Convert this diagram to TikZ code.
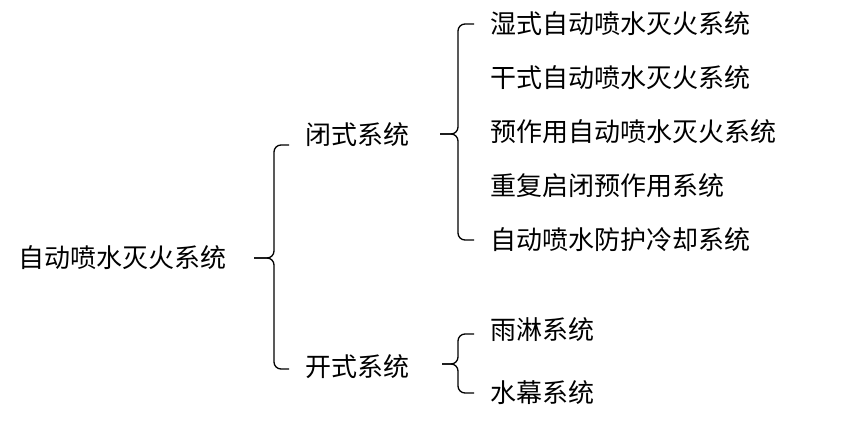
\documentclass[tikz,border=0pt]{standalone}
\usepackage{fontspec}
\setmainfont{Noto Sans CJK SC}
\tikzset{
  lbl/.style={anchor=west, inner sep=0pt, font=\fontsize{26pt}{28pt}\selectfont},
  brace/.style={line width=1.3pt, rounded corners=7pt}
}
\begin{document}
\begin{tikzpicture}[x=1pt, y=-1pt]
    \useasboundingbox (0,0) rectangle (859,427);

    % Labels
    \node[lbl] (root) at (18,258) {自动喷水灭火系统};
    \node[lbl] (closed) at (305,135) {闭式系统};
    \node[lbl] (open) at (305,367) {开式系统};
    \node[lbl] (c1) at (490,24) {湿式自动喷水灭火系统};
    \node[lbl] (c2) at (490,78) {干式自动喷水灭火系统};
    \node[lbl] (c3) at (490,132) {预作用自动喷水灭火系统};
    \node[lbl] (c4) at (490,186) {重复启闭预作用系统};
    \node[lbl] (c5) at (490,240) {自动喷水防护冷却系统};
    \node[lbl] (o1) at (490,330) {雨淋系统};
    \node[lbl] (o2) at (490,393) {水幕系统};

    % Brace for root
    \draw[brace] (closed.west) ++(-16,10) -- (274,145) -- (274,258) -- (254,258);
    \draw[brace] (open.west) ++(-16,2) -- (274,369) -- (274,258) -- (254,258);

    % Brace for closed systems
    \draw[brace] (c1.west) ++(-16,0) -- (458,24) -- (458,134) -- (440,134);
    \draw[brace] (c5.west) ++(-16,0) -- (458,240) -- (458,134) -- (440,134);

    % Brace for open systems
    \draw[brace] (o1.west) ++(-16,4) -- (458,334) -- (458,364) -- (442,364);
    \draw[brace] (o2.west) ++(-16,0) -- (458,393) -- (458,364) -- (442,364);
\end{tikzpicture}
\end{document}
